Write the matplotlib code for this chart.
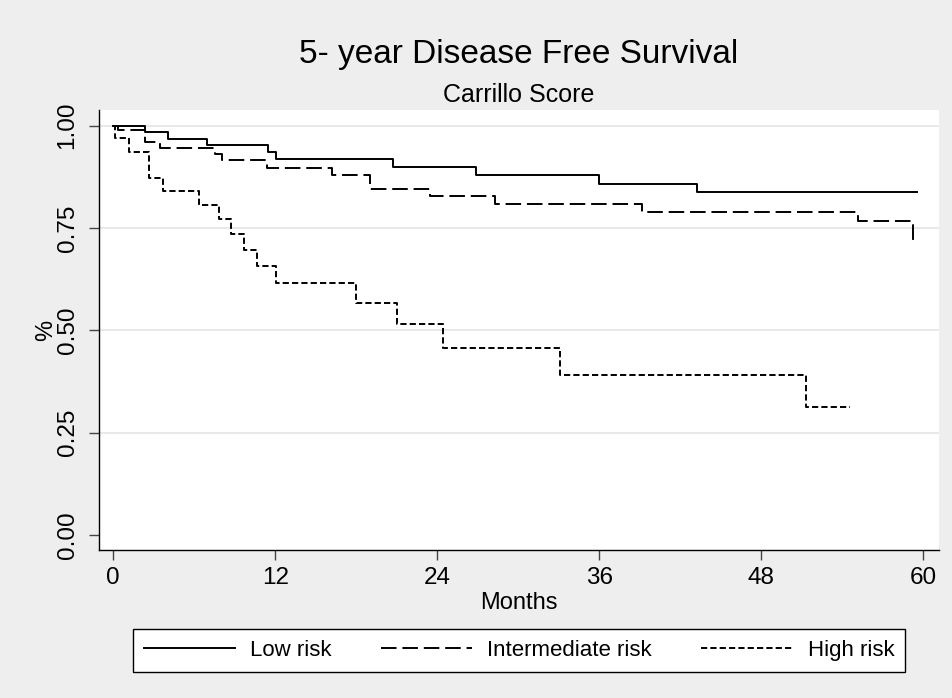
import numpy as np
import matplotlib
matplotlib.use("Agg")
import matplotlib.pyplot as plt

plt.rcParams["font.family"] = ["Liberation Sans", "DejaVu Sans"]

# Kaplan-Meier step data (months, survival)
low_t = [0, 2.35, 4.07, 6.96, 11.48, 12.03, 20.74, 26.84, 36.0, 43.26]
low_s = [1.0, 0.985, 0.968, 0.953, 0.935, 0.918, 0.900, 0.879, 0.858, 0.837]
low_end = 59.56

mid_t = [0, 0.37, 2.35, 3.46, 7.53, 8.05, 11.36, 16.18, 19.01, 23.46, 28.27, 39.14, 55.19, 59.26]
mid_s = [1.0, 0.9895, 0.961, 0.945, 0.930, 0.916, 0.897, 0.880, 0.845, 0.828, 0.809, 0.788, 0.768, 0.721]
mid_end = 59.26

high_t = [0, 0.13, 1.19, 2.64, 3.70, 6.35, 7.85, 8.72, 9.70, 10.62, 12.03, 17.96, 21.04, 24.44, 33.09, 51.31]
high_s = [1.0, 0.969, 0.935, 0.8715, 0.841, 0.806, 0.771, 0.735, 0.696, 0.658, 0.6165, 0.566, 0.5155, 0.4576, 0.392, 0.3135]
high_end = 54.57

labels = ["Low risk", "Intermediate risk", "High risk"]
x_ticks = [0, 12, 24, 36, 48, 60]
y_ticks = [0.0, 0.25, 0.5, 0.75, 1.0]
y_ticklabels = ["0.00", "0.25", "0.50", "0.75", "1.00"]

bg = "#EEEEEE"

fig = plt.figure(figsize=(9.53, 6.98), dpi=100, facecolor=bg)
ax = fig.add_axes([0.1036, 0.212, 0.8817, 0.6304])
ax.set_facecolor("white")

# grid lines (Stata style, not at 0)
for yv in y_ticks[1:]:
    ax.axhline(yv, color="#E6E6E6", lw=1.3, zorder=0)


def km_line(t, s, end, style, lab):
    xs = list(t) + [end]
    ys = list(s) + [s[-1]]
    ax.step(xs, ys, where="post", color="black", lw=1.4, linestyle=style, label=lab)


km_line(low_t, low_s, low_end, "-", labels[0])
km_line(mid_t, mid_s, mid_end, (0, (8, 3)), labels[1])
km_line(high_t, high_s, high_end, (0, (3.2, 1.6)), labels[2])

ax.set_xlim(-1.08, 61.16)
ax.set_ylim(-0.0367, 1.0384)

ax.spines["top"].set_visible(False)
ax.spines["right"].set_visible(False)
ax.spines["left"].set_linewidth(1.0)
ax.spines["bottom"].set_linewidth(1.0)

ax.set_xticks(x_ticks)
ax.set_yticks(y_ticks)
ax.set_yticklabels(y_ticklabels, rotation=90, va="center")
ax.tick_params(axis="both", length=7.5, width=1.0, color="#444444", labelsize=17.5)
ax.tick_params(axis="y", pad=7)
ax.tick_params(axis="x", pad=5)

ax.set_xlabel("Months", fontsize=17)
ax.xaxis.set_label_coords(0.5, -0.095)
ax.set_ylabel("%", fontsize=17)
ax.yaxis.set_label_coords(-0.05, 0.5)

fig.text(0.544, 0.9093, "5- year Disease Free Survival", ha="center", va="baseline", fontsize=24)
fig.text(0.544, 0.8543, "Carrillo Score", ha="center", va="baseline", fontsize=18)

leg = fig.legend(loc="center", bbox_to_anchor=(0.5446, 0.0678), ncol=3, fontsize=16,
                 handlelength=4.1, handletextpad=0.7, columnspacing=2.2,
                 borderpad=0.5, fancybox=False, frameon=True)
leg.get_frame().set_edgecolor("black")
leg.get_frame().set_linewidth(1.0)
leg.get_frame().set_facecolor("white")
leg.get_frame().set_alpha(1)

fig.savefig("out.png", dpi=100, facecolor=bg)
